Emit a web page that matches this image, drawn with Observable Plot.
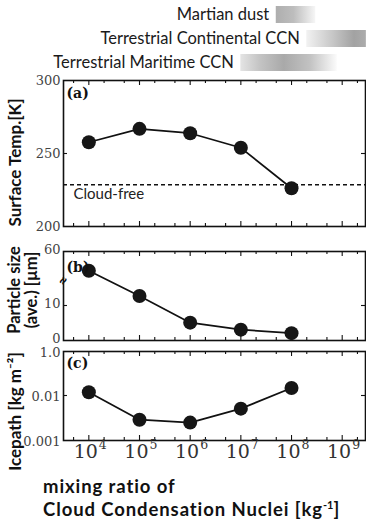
<!DOCTYPE html>
<html><head><meta charset="utf-8">
<script src="https://cdn.jsdelivr.net/npm/d3@7"></script>
<script src="https://cdn.jsdelivr.net/npm/@observablehq/plot@0.6"></script>
<style>
html,body{margin:0;padding:0;background:#fff;}
#chart{position:relative;width:366px;height:523px;overflow:hidden;background:#fff;}
#chart > svg{position:absolute;left:0;overflow:visible;}
.xlabel{position:absolute;left:43px;font-family:Lato,'Open Sans',sans-serif;font-weight:bold;font-size:18.5px;letter-spacing:0.9px;line-height:19px;height:19px;color:#111;white-space:nowrap;}
.xlabel sup{font-size:11px;line-height:0;letter-spacing:0;}
</style></head><body><div id="chart"></div>
<script>
// ---- data ----
const ccn = [1e4, 1e5, 1e6, 1e7, 1e8];                   // mixing ratio of CCN [kg-1]
const surfaceTemp = [257.7, 266.9, 263.9, 253.9, 226.2];  // K
const cloudFree = 228.6;                                 // K
const particleSize = [32, 12.7, 5.1, 3.1, 2.1];          // µm (top point above axis break)
const icepath = [0.0141, 0.0029, 0.0025, 0.0051, 0.022]; // kg m-2
const decadeTicks = [1e4, 1e5, 1e6, 1e7, 1e8, 1e9];
const decadeExponents = ["4", "5", "6", "7", "8", "9"];
const minorTicks = [5e3, 2e4, 5e4, 2e5, 5e5, 2e6, 5e6, 2e7, 5e7, 2e8, 5e8, 2e9];
const tempTicks = [200, 250, 300];
const sizeTicks = [0, 10, 60];
const sizeBreak = 17;
const iceTicks = [0.001, 0.01, 1];
const iceTickLabels = ["0.001", "0.01", "1.0"];
const sourceNames = ["Martian dust", "Terrestrial Continental CCN", "Terrestrial Maritime CCN"];
const sourceLow = [5e7, 2e8, 1e7];
const sourceHigh = [3e8, 3e9, 8e8];
const xLabelLines = ["mixing ratio of", "Cloud Condensation Nuclei [kg<sup>-1</sup>]"];

// ---- tables ----
const rows = ccn.map((c, i) => ({ccn: c, temp: surfaceTemp[i], size: particleSize[i], ice: icepath[i]}));
const sources = sourceNames.map((n, i) => ({name: n, low: sourceLow[i], high: sourceHigh[i], grad: `url(#grad${i})`}));
const decades = decadeTicks.map((v, i) => ({v, e: decadeExponents[i]}));
const iceLabelRows = iceTicks.map((v, i) => ({v, label: iceTickLabels[i]}));

const W = 366, ML = 63, MR = 1;
const serif = "'DejaVu Serif','Liberation Serif',serif";
const sans = "Lato,'Open Sans',sans-serif";
const xScale = {type: "log", domain: [10 ** 3.5, 10 ** 9.46], axis: null};
const chart = document.getElementById("chart");

function place(svg, top) { svg.style.top = top + "px"; chart.appendChild(svg); return svg; }

function frameTicks(innerH, yTickVals) {
  const innerW = W - ML - MR;
  const s = {stroke: "#111", strokeWidth: 1.1};
  return [
    Plot.ruleX(decadeTicks, {...s, insetTop: innerH - 5}),
    Plot.ruleX(decadeTicks, {...s, insetBottom: innerH - 5}),
    Plot.ruleX(minorTicks, {...s, insetTop: innerH - 3}),
    Plot.ruleX(minorTicks, {...s, insetBottom: innerH - 3}),
    Plot.ruleY(yTickVals, {...s, insetRight: innerW - 4}),
    Plot.ruleY(yTickVals, {...s, insetLeft: innerW - 4}),
    Plot.frame({stroke: "#111", strokeWidth: 1.6})
  ];
}
const common = {
  width: W, marginLeft: ML, marginRight: MR,
  style: {fontFamily: serif, fontSize: "13px", color: "#444", background: "transparent", overflow: "visible"}
};
const yTickText = {frameAnchor: "left", textAnchor: "end", lineAnchor: "middle", dx: -3, fontFamily: serif, fontSize: 13, fill: "#444"};
const yTitle = {frameAnchor: "left", rotate: -90, textAnchor: "middle", lineAnchor: "middle", fontWeight: "bold", fontFamily: sans, fill: "#111"};
const panelTag = {frameAnchor: "top-left", textAnchor: "start", lineAnchor: "middle", dx: 3, fontWeight: "bold", fontFamily: serif, fontSize: 14, fill: "#111"};

// ---- legend ----
const legend = Plot.plot({
  ...common, height: 78, marginTop: 0, marginBottom: 0,
  x: xScale,
  y: {type: "band", domain: sourceNames, range: [1.75, 75.25], paddingInner: 0.306, paddingOuter: 0.153, axis: null},
  color: {type: "identity"},
  marks: [
    Plot.barX(sources, {x1: "low", x2: "high", y: "name", fill: "grad"}),
    Plot.text(sources, {x: "low", y: "name", text: "name", textAnchor: "end", dx: -7, fontFamily: sans, fontSize: 16.5, fill: "#1a1a1a"})
  ]
});
const defs = d3.select(legend).insert("defs", ":first-child");
const gradStops = [
  [[0, "#aeaeae"], [0.45, "#bdbdbd"], [1, "#f6f6f6"]],
  [[0, "#f2f2f2"], [0.45, "#c6c6c6"], [0.8, "#a2a2a2"], [1, "#acacac"]],
  [[0, "#e4e4e4"], [0.2, "#c4c4c4"], [0.45, "#a9a9a9"], [0.72, "#c2c2c2"], [1, "#fbfbfb"]]
];
gradStops.forEach((stops, i) => {
  const g = defs.append("linearGradient").attr("id", `grad${i}`).attr("x1", 0).attr("x2", 1).attr("y1", 0).attr("y2", 0);
  stops.forEach(([o, c]) => g.append("stop").attr("offset", o).attr("stop-color", c));
});
place(legend, 0);

// ---- panel (a) ----
const aH = 152, aT = 2, aB = 4;
place(Plot.plot({
  ...common, height: aH, marginTop: aT, marginBottom: aB,
  x: xScale,
  y: {domain: [200, 300], axis: null},
  marks: [
    ...frameTicks(aH - aT - aB, [250]),
    Plot.text(tempTicks, {...yTickText, y: d => d, text: d => String(d)}),
    Plot.ruleY([cloudFree], {stroke: "#111", strokeWidth: 1.5, strokeDasharray: "4,3"}),
    Plot.text([cloudFree], {y: d => d, frameAnchor: "left", text: () => "Cloud-free", textAnchor: "start", lineAnchor: "middle", dx: 10, dy: 9, fontFamily: sans, fontSize: 15, fill: "#222"}),
    Plot.line(rows, {x: "ccn", y: "temp", stroke: "#111", strokeWidth: 1.7}),
    Plot.dot(rows, {x: "ccn", y: "temp", r: 7, fill: "#161616"}),
    Plot.text(["(a)"], {...panelTag, dy: 13}),
    Plot.text(["Surface Temp.[K]"], {...yTitle, dx: -48, dy: 9, fontSize: 17})
  ]
}), 78);

// ---- panel (b) ----
const bH = 115, bT = 21, bB = 5;
place(Plot.plot({
  ...common, height: bH, marginTop: bT, marginBottom: bB,
  x: xScale,
  y: {type: "linear", domain: [0, sizeBreak, 60], range: [110, 50.5, 21], axis: null},
  marks: [
    ...frameTicks(bH - bT - bB, [10]),
    Plot.text(sizeTicks, {...yTickText, y: d => d, text: d => String(d), dy: -2}),
    Plot.text([sizeBreak], {y: d => d, frameAnchor: "left", textAnchor: "middle", lineAnchor: "middle", text: () => "≈", rotate: -60, fontSize: 16, fontWeight: "bold", fill: "#111", fontFamily: sans}),
    Plot.line(rows, {x: "ccn", y: "size", stroke: "#111", strokeWidth: 1.7}),
    Plot.dot(rows, {x: "ccn", y: "size", r: 7, fill: "#161616"}),
    Plot.text(["(b)"], {...panelTag, dy: 16}),
    Plot.text(["Particle size"], {...yTitle, dx: -49, dy: -6, fontSize: 16.5}),
    Plot.text(["(ave.) [µm]"], {...yTitle, dx: -32, dy: -6, fontSize: 16.5})
  ]
}), 230);

// ---- panel (c) ----
const cH = 130, cT = 6, cB = 35;
place(Plot.plot({
  ...common, height: cH, marginTop: cT, marginBottom: cB,
  x: xScale,
  y: {type: "log", domain: [0.001, 0.01, 1], range: [95, 50, 6], axis: null},
  marks: [
    ...frameTicks(cH - cT - cB, [0.01]),
    Plot.text(iceLabelRows, {...yTickText, y: "v", text: "label", dy: 1}),
    Plot.line(rows, {x: "ccn", y: "ice", stroke: "#111", strokeWidth: 1.7}),
    Plot.dot(rows, {x: "ccn", y: "ice", r: 7, fill: "#161616"}),
    Plot.text(["(c)"], {...panelTag, dy: 12}),
    Plot.text(decades, {x: "v", frameAnchor: "bottom", lineAnchor: "middle", text: () => "10", textAnchor: "end", dx: 9, dy: 11.5, fontFamily: serif, fontSize: 19, fill: "#333"}),
    Plot.text(decades, {x: "v", frameAnchor: "bottom", lineAnchor: "middle", text: "e", textAnchor: "start", dx: 10, dy: 4.5, fontFamily: serif, fontSize: 12.5, fill: "#333"}),
    Plot.text(["Icepath [kg m⁻²]"], {...yTitle, dx: -48, dy: 15.5, fontSize: 17})
  ]
}), 345);

// ---- x label (two lines below the chart) ----
xLabelLines.forEach((line, i) => {
  const div = document.createElement("div");
  div.className = "xlabel";
  div.style.top = (477 + i * 22.5) + "px";
  div.innerHTML = line;
  chart.appendChild(div);
});
</script></body></html>
